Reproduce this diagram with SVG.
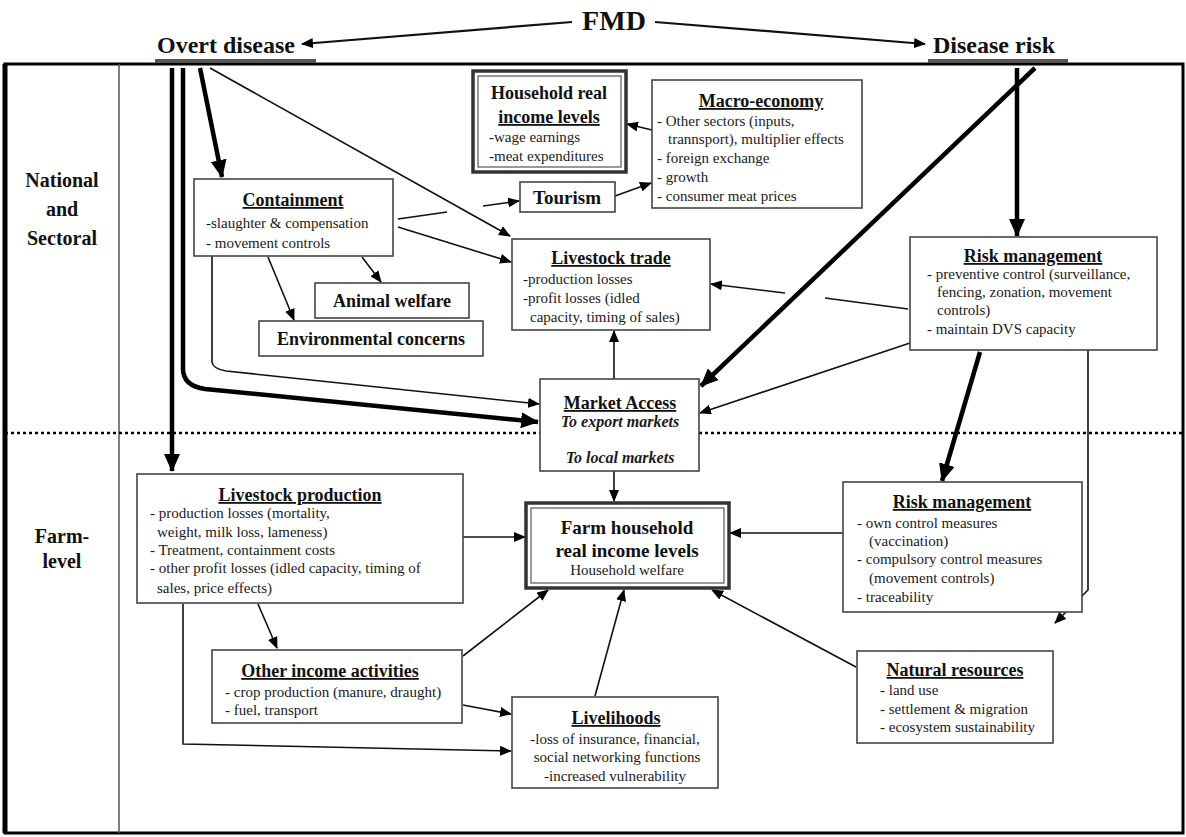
<svg xmlns="http://www.w3.org/2000/svg" width="1186" height="837" viewBox="0 0 1186 837">
<defs>
<style>
.bx{fill:#fff;stroke:#444;stroke-width:1.6}
.t{font-family:"Liberation Serif",serif;font-weight:bold;font-size:18px;fill:#111}
.tu{font-family:"Liberation Serif",serif;font-weight:bold;font-size:18px;fill:#111;text-decoration:underline}
.b{font-family:"Liberation Serif",serif;font-size:15px;fill:#1a1a1a}
.bi{font-family:"Liberation Serif",serif;font-size:16px;font-weight:bold;font-style:italic;fill:#1a1a1a}
.lab{font-family:"Liberation Serif",serif;font-weight:bold;font-size:20px;fill:#111}
.c{fill:none;stroke:#111;stroke-width:1.6}
.k{fill:none;stroke:#000;stroke-width:4.5}
</style>
<marker id="a" markerUnits="userSpaceOnUse" markerWidth="12" markerHeight="10" refX="11" refY="5" orient="auto"><path d="M0,0 L12,5 L0,10 Z" fill="#000"/></marker>
<marker id="ab" markerUnits="userSpaceOnUse" markerWidth="18" markerHeight="16" refX="17" refY="8" orient="auto"><path d="M0,0 L18,8 L0,16 Z" fill="#000"/></marker>
</defs>
<rect width="1186" height="837" fill="#fff"/>

<g id="frame">
<rect x="5" y="64" width="1178" height="769" fill="none" stroke="#000" stroke-width="3"/>
<line x1="5" y1="64" x2="5" y2="833" stroke="#000" stroke-width="5"/>
<line x1="119" y1="64" x2="119" y2="833" stroke="#555" stroke-width="1.5"/>
<line x1="5" y1="433" x2="540" y2="433" stroke="#000" stroke-width="2.5" stroke-dasharray="3 3"/>
<line x1="699" y1="433" x2="1183" y2="433" stroke="#000" stroke-width="2.5" stroke-dasharray="3 3"/>
</g>

<g id="header">
<text x="614" y="30" text-anchor="middle" class="lab" style="font-size:28px">FMD</text>
<text x="157" y="53" class="lab" style="font-size:24px">Overt disease</text>
<rect x="155" y="59" width="161" height="4" fill="#555"/>
<text x="933" y="53" class="lab" style="font-size:24px">Disease risk</text>
<rect x="928" y="59" width="140" height="4" fill="#555"/>
</g>

<g id="levels">
<text x="62" y="187" text-anchor="middle" class="lab">National</text>
<text x="62" y="216" text-anchor="middle" class="lab">and</text>
<text x="62" y="245" text-anchor="middle" class="lab">Sectoral</text>
<text x="62" y="543" text-anchor="middle" class="lab">Farm-</text>
<text x="62" y="568" text-anchor="middle" class="lab">level</text>
</g>

<g id="connectors">
<line class="c" x1="572" y1="22" x2="302" y2="44" marker-end="url(#a)" style="stroke-width:2.2"/>
<line class="c" x1="655" y1="22" x2="925" y2="44" marker-end="url(#a)" style="stroke-width:2.2"/>
<line class="k" x1="200" y1="68" x2="222" y2="177" marker-end="url(#ab)"/>
<line class="k" x1="172" y1="68" x2="172" y2="471" marker-end="url(#ab)"/>
<path class="k" d="M183,68 L183,370 Q184,386 205,389 L538,422" marker-end="url(#ab)"/>
<line class="c" x1="210" y1="68" x2="510" y2="236" marker-end="url(#a)"/>
<line class="c" x1="398" y1="219" x2="447" y2="212"/>
<line class="c" x1="483" y1="206" x2="519" y2="201" marker-end="url(#a)"/>
<line class="c" x1="398" y1="227" x2="511" y2="262" marker-end="url(#a)"/>
<line class="c" x1="362" y1="257" x2="381" y2="282" marker-end="url(#a)"/>
<line class="c" x1="268" y1="257" x2="294" y2="320" marker-end="url(#a)"/>
<path class="c" d="M212,256 L212,362 Q213,369 226,371 L539,404" marker-end="url(#a)"/>
<line class="c" x1="615" y1="196" x2="651" y2="183" marker-end="url(#a)"/>
<line class="c" x1="652" y1="130" x2="627" y2="124" marker-end="url(#a)"/>
<line class="k" x1="1017" y1="68" x2="1017" y2="236" marker-end="url(#ab)"/>
<line class="k" x1="1035" y1="68" x2="701" y2="386" marker-end="url(#ab)"/>
<line class="c" x1="908" y1="309" x2="825" y2="298"/>
<line class="c" x1="785" y1="293" x2="711" y2="284" marker-end="url(#a)"/>
<line class="c" x1="910" y1="343" x2="700" y2="413" marker-end="url(#a)"/>
<line class="k" x1="980" y1="352" x2="942" y2="481" marker-end="url(#ab)"/>
<path class="c" d="M1088,350 L1088,590 L1055,623" marker-end="url(#a)"/>
<line class="c" x1="614" y1="379" x2="614" y2="331" marker-end="url(#a)"/>
<line class="c" x1="614" y1="471" x2="614" y2="501" marker-end="url(#a)"/>
<line class="c" x1="463" y1="537" x2="525" y2="537" marker-end="url(#a)"/>
<line class="c" x1="843" y1="533" x2="730" y2="533" marker-end="url(#a)"/>
<line class="c" x1="258" y1="604" x2="277" y2="648" marker-end="url(#a)"/>
<path class="c" d="M183,604 L183,744 L511,751" marker-end="url(#a)"/>
<line class="c" x1="463" y1="656" x2="548" y2="590" marker-end="url(#a)"/>
<line class="c" x1="463" y1="705" x2="511" y2="714" marker-end="url(#a)"/>
<line class="c" x1="595" y1="696" x2="624" y2="590" marker-end="url(#a)"/>
<line class="c" x1="856" y1="667" x2="712" y2="590" marker-end="url(#a)"/>
</g>

<g id="household">
<rect x="473" y="71" width="153" height="101" fill="#fff" stroke="#333" stroke-width="3.5"/>
<rect x="478" y="76" width="143" height="91" fill="none" stroke="#555" stroke-width="1.2"/>
<text x="549" y="99" text-anchor="middle" class="t">Household real</text>
<text x="549" y="123" text-anchor="middle" class="tu">income levels</text>
<text x="489" y="142" class="b">-wage earnings</text>
<text x="489" y="161" class="b">-meat expenditures</text>
</g>

<g id="macro">
<rect class="bx" x="652" y="80" width="210" height="128"/>
<text x="761" y="107" text-anchor="middle" class="tu">Macro-economy</text>
<text x="657" y="126" class="b">-  Other sectors (inputs,</text>
<text x="668" y="144" class="b">trannsport), multiplier effects</text>
<text x="657" y="163" class="b">-  foreign exchange</text>
<text x="657" y="182" class="b">-  growth</text>
<text x="657" y="201" class="b">-  consumer meat prices</text>
</g>

<g id="tourism">
<rect class="bx" x="520" y="182" width="95" height="30"/>
<text x="567" y="204" text-anchor="middle" class="t" style="font-size:19px">Tourism</text>
</g>

<g id="containment">
<rect class="bx" x="194" y="179" width="199" height="77"/>
<text x="293" y="206" text-anchor="middle" class="tu">Containment</text>
<text x="206" y="228" class="b">-slaughter &amp; compensation</text>
<text x="206" y="248" class="b">- movement controls</text>
</g>

<g id="livestock-trade">
<rect class="bx" x="512" y="239" width="198" height="91"/>
<text x="611" y="264" text-anchor="middle" class="tu">Livestock trade</text>
<text x="523" y="284" class="b">-production losses</text>
<text x="523" y="303" class="b">-profit losses (idled</text>
<text x="530" y="322" class="b">capacity, timing of sales)</text>
</g>

<g id="animal-welfare">
<rect class="bx" x="315" y="283" width="154" height="35"/>
<text x="392" y="307" text-anchor="middle" class="t">Animal welfare</text>
</g>

<g id="environmental">
<rect class="bx" x="259" y="321" width="224" height="35"/>
<text x="371" y="345" text-anchor="middle" class="t">Environmental concerns</text>
</g>

<g id="risk-national">
<rect class="bx" x="910" y="237" width="247" height="113"/>
<text x="1033" y="262" text-anchor="middle" class="tu">Risk management</text>
<text x="927" y="279" class="b">- preventive control (surveillance,</text>
<text x="937" y="297" class="b">fencing, zonation,  movement</text>
<text x="937" y="315" class="b">controls)</text>
<text x="927" y="334" class="b">- maintain DVS capacity</text>
</g>

<g id="market-access">
<rect class="bx" x="540" y="379" width="159" height="92"/>
<text x="620" y="409" text-anchor="middle" class="tu">Market Access</text>
<text x="620" y="427" text-anchor="middle" class="bi">To export markets</text>
<text x="620" y="463" text-anchor="middle" class="bi">To local markets</text>
</g>

<g id="livestock-production">
<rect class="bx" x="137" y="474" width="326" height="129"/>
<text x="300" y="501" text-anchor="middle" class="tu">Livestock production</text>
<text x="150" y="518" class="b">- production losses (mortality,</text>
<text x="157" y="537" class="b">weight,  milk loss, lameness)</text>
<text x="150" y="555" class="b">- Treatment, containment costs</text>
<text x="150" y="573" class="b">- other profit losses (idled  capacity, timing of</text>
<text x="157" y="593" class="b">sales, price effects)</text>
</g>

<g id="farm-household">
<rect x="526" y="503" width="203" height="85" fill="#fff" stroke="#333" stroke-width="3.5"/>
<rect x="531" y="508" width="193" height="75" fill="none" stroke="#555" stroke-width="1.2"/>
<text x="627" y="534" text-anchor="middle" class="t" style="font-size:19px">Farm household</text>
<text x="627" y="557" text-anchor="middle" class="t" style="font-size:19px">real income levels</text>
<text x="627" y="575" text-anchor="middle" class="b">Household welfare</text>
</g>

<g id="risk-farm">
<rect class="bx" x="843" y="482" width="239" height="130"/>
<text x="962" y="508" text-anchor="middle" class="tu">Risk management</text>
<text x="857" y="528" class="b">- own control measures</text>
<text x="869" y="546" class="b">(vaccination)</text>
<text x="857" y="564" class="b">- compulsory control  measures</text>
<text x="869" y="583" class="b">(movement controls)</text>
<text x="857" y="602" class="b">- traceability</text>
</g>

<g id="natural-resources">
<rect class="bx" x="857" y="651" width="196" height="92"/>
<text x="955" y="676" text-anchor="middle" class="tu">Natural resources</text>
<text x="880" y="695" class="b">- land use</text>
<text x="880" y="714" class="b">- settlement &amp; migration</text>
<text x="880" y="732" class="b">- ecosystem sustainability</text>
</g>

<g id="other-income">
<rect class="bx" x="212" y="650" width="250" height="73"/>
<text x="330" y="677" text-anchor="middle" class="tu">Other income activities</text>
<text x="225" y="697" class="b">- crop production (manure, draught)</text>
<text x="225" y="715" class="b">- fuel, transport</text>
</g>

<g id="livelihoods">
<rect class="bx" x="512" y="697" width="206" height="91"/>
<text x="616" y="724" text-anchor="middle" class="tu">Livelihoods</text>
<text x="615" y="744" text-anchor="middle" class="b">-loss of insurance,  financial,</text>
<text x="617" y="762" text-anchor="middle" class="b">social  networking functions</text>
<text x="615" y="781" text-anchor="middle" class="b">-increased vulnerability</text>
</g>
</svg>
